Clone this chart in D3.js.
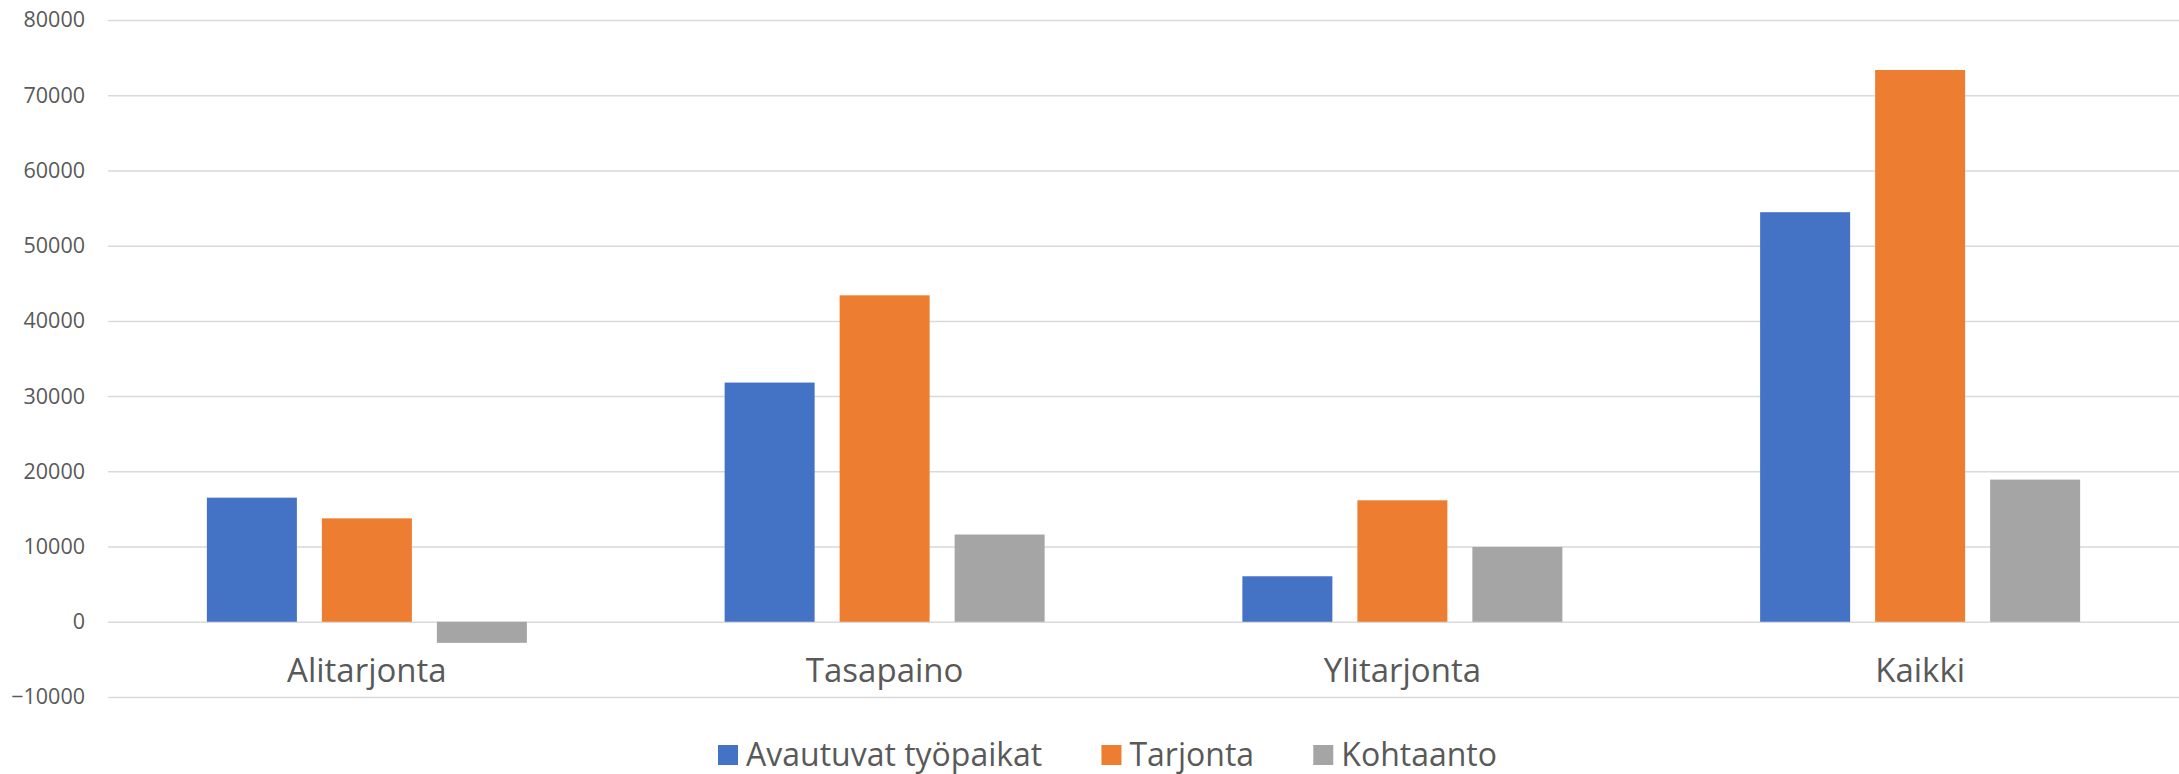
<!DOCTYPE html>
<html>
<head>
<meta charset="utf-8">
<script src="https://cdn.jsdelivr.net/npm/d3@7"></script>
<style>
  body { margin: 0; background: #fff; }
  text { font-family: "Open Sans", "Noto Sans", sans-serif; fill: #595959; }
</style>
</head>
<body>
<div id="wrapper"></div>
<script>
// data
const categories = ["Alitarjonta", "Tasapaino", "Ylitarjonta", "Kaikki"];
const seriesNames = ["Avautuvat työpaikat", "Tarjonta", "Kohtaanto"];
const avautuvat = [16500, 31800, 6050, 54450];
const tarjonta = [13750, 43400, 16150, 73350];
const kohtaanto = [-2800, 11600, 9950, 18900];
const yTicks = [-10000, 0, 10000, 20000, 30000, 40000, 50000, 60000, 70000, 80000];
const colors = ["#4472C4", "#ED7D31", "#A5A5A5"];

const seriesValues = [avautuvat, tarjonta, kohtaanto];

let dimensions = {
  width: 2179,
  height: 774,
  margin: { top: 20, left: 108, bottom: 77, right: 0 }
};
dimensions.boundedWidth = dimensions.width - dimensions.margin.left - dimensions.margin.right;
dimensions.boundedHeight = dimensions.height - dimensions.margin.top - dimensions.margin.bottom;

const wrapper = d3.select("#wrapper").append("svg")
  .attr("width", dimensions.width)
  .attr("height", dimensions.height);
const container = wrapper.append("g")
  .attr("transform", `translate(${dimensions.margin.left},${dimensions.margin.top})`);

const yScale = d3.scaleLinear()
  .domain([-10000, 80000])
  .range([dimensions.boundedHeight, 0]);

const xScale = d3.scaleBand()
  .domain(categories)
  .range([0, dimensions.boundedWidth]);

// bars inside one category: 90px wide, 25px apart
const groupWidth = 345;
const xSub = d3.scaleBand()
  .domain(seriesNames)
  .range([0, groupWidth])
  .paddingInner(0.2174)
  .paddingOuter(0.1087);

// gridlines + y labels
const yAxisGen = d3.axisLeft(yScale)
  .tickValues(yTicks)
  .tickSize(-dimensions.boundedWidth)
  .tickPadding(23)
  .tickFormat(d3.format("d"));
const axisY = container.append("g").call(yAxisGen);
axisY.select(".domain").remove();
axisY.selectAll(".tick line").attr("stroke", "#d9d9d9").attr("stroke-width", 1.5);
axisY.selectAll(".tick text")
  .style("font-size", "21.5px")
  .style("font-family", "'Open Sans', sans-serif")
  .attr("fill", "#595959");

// bars
const rows = categories.map((c, i) => ({
  category: c,
  values: seriesNames.map((s, j) => ({ series: s, idx: j, value: seriesValues[j][i] }))
}));

const groups = container.selectAll(".group")
  .data(rows)
  .enter()
  .append("g")
  .attr("class", "group")
  .attr("transform", d => `translate(${xScale(d.category) + xScale.bandwidth() / 2 - groupWidth / 2},0)`);

groups.selectAll("rect")
  .data(d => d.values)
  .enter()
  .append("rect")
  .attr("x", d => xSub(d.series))
  .attr("width", xSub.bandwidth())
  .attr("y", d => yScale(Math.max(0, d.value)))
  .attr("height", d => Math.abs(yScale(d.value) - yScale(0)))
  .attr("fill", d => colors[d.idx]);

// category labels
container.selectAll(".cat")
  .data(categories)
  .enter()
  .append("text")
  .attr("class", "cat")
  .attr("x", d => xScale(d) + xScale.bandwidth() / 2)
  .attr("y", yScale(0) + 60)
  .attr("text-anchor", "middle")
  .style("font-size", "33px")
  .text(d => d);

// legend, spread evenly between x=718 and x=1497
const items = wrapper.selectAll(".item")
  .data(seriesNames)
  .enter()
  .append("g")
  .attr("class", "item");
items.append("rect")
  .attr("width", 20)
  .attr("height", 20)
  .attr("y", 745)
  .attr("fill", (d, i) => colors[i]);
items.append("text")
  .attr("x", 28)
  .attr("y", 766)
  .style("font-size", "32px")
  .text(d => d);

const widths = [];
items.each(function () {
  widths.push(d3.select(this).select("text").node().getComputedTextLength() + 28);
});
const legendStart = 718, legendEnd = 1497;
const gap = (legendEnd - legendStart - d3.sum(widths)) / (widths.length - 1);
let offset = legendStart;
items.attr("transform", (d, i) => {
  const x = offset;
  offset += widths[i] + gap;
  return `translate(${x},0)`;
});
</script>
</body>
</html>
